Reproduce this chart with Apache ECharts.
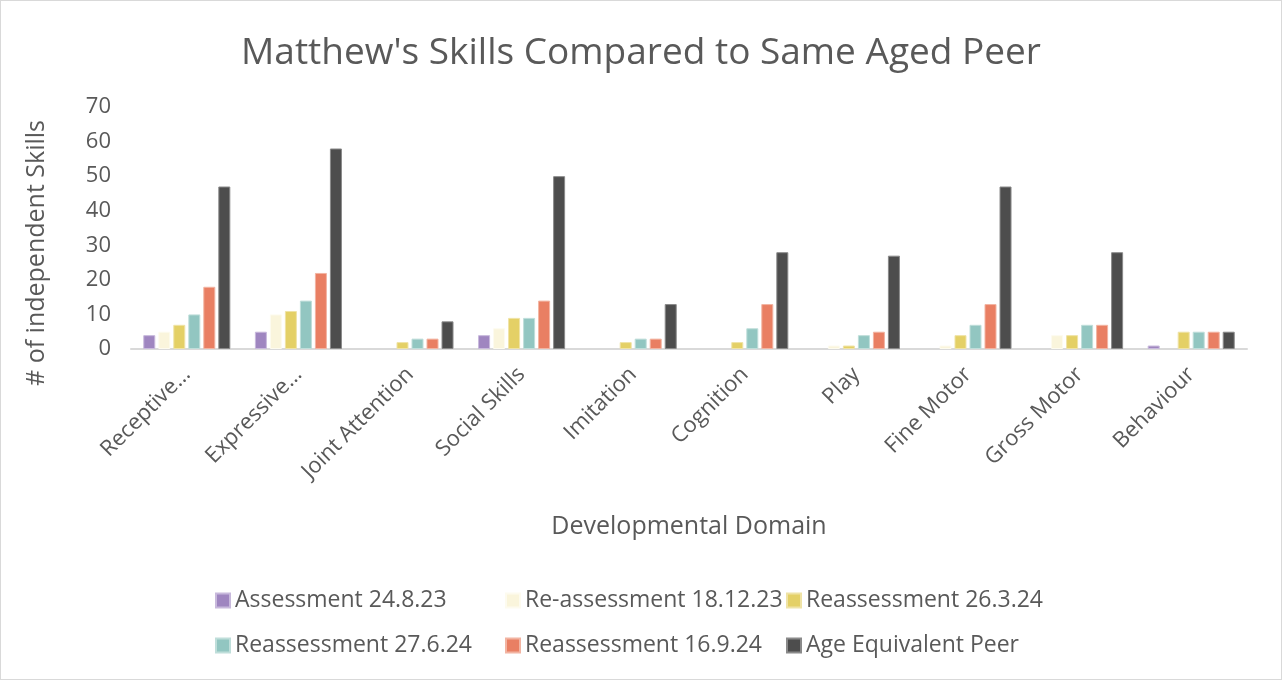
<!DOCTYPE html>
<html>
<head>
<meta charset="utf-8">
<script src="https://cdn.jsdelivr.net/npm/echarts@6/dist/echarts.min.js"></script>
<style>
html,body{margin:0;padding:0;background:#fff;}
#c{width:1282px;height:680px;box-sizing:border-box;border:1px solid #d9d9d9;}
</style>
</head>
<body>
<div id="c"></div>
<script>
const categories = ["Receptive Language","Expressive Language","Joint Attention","Social Skills","Imitation","Cognition","Play","Fine Motor","Gross Motor","Behaviour"];
const tickLabels = ["Receptive…","Expressive…","Joint Attention","Social Skills","Imitation","Cognition","Play","Fine Motor","Gross Motor","Behaviour"];
const seriesNames = ["Assessment 24.8.23","Re-assessment 18.12.23","Reassessment 26.3.24","Reassessment 27.6.24","Reassessment 16.9.24","Age Equivalent Peer"];
const assessment_24_8_23   = [4, 5, 0, 4, 0, 0, 0, 0, 0, 1];
const reassessment_18_12_23 = [5, 10, 0, 6, 0, 0, 1, 1, 4, 0];
const reassessment_26_3_24 = [7, 11, 2, 9, 2, 2, 1, 4, 4, 5];
const reassessment_27_6_24 = [10, 14, 3, 9, 3, 6, 4, 7, 7, 5];
const reassessment_16_9_24 = [18, 22, 3, 14, 3, 13, 5, 13, 7, 5];
const ageEquivalentPeer    = [47, 58, 8, 50, 13, 28, 27, 47, 28, 5];
const yTicks = {min: 0, max: 70, interval: 10};

const values = [assessment_24_8_23, reassessment_18_12_23, reassessment_26_3_24, reassessment_27_6_24, reassessment_16_9_24, ageEquivalentPeer];
const colors = ["#9f86c0","#faf5dc","#e4d066","#92c6c1","#e97f63","#4d4d4d"];
const borders = ["#c8b9dc","#fdfbef","#efe3a6","#bfdeda","#f2b4a2","#8a8a8a"];
const txt = "#595959";
const font = "Open Sans";

const legendPos = [[214, 588], [504, 588], [785, 588], [214, 633], [504, 633], [785, 633]];
const legends = seriesNames.map((n, i) => ({
  data: [n], left: legendPos[i][0], top: legendPos[i][1], padding: 0,
  itemWidth: 14, itemHeight: 14, itemGap: 0, icon: 'rect',
  textStyle: {color: txt, fontSize: 23, fontFamily: font}
}));

const chart = echarts.init(document.getElementById('c'), null, {renderer:'canvas'});
chart.setOption({
  animation: false,
  backgroundColor: '#fff',
  title: {text: "Matthew's Skills Compared to Same Aged Peer", left: 'center', top: 29,
    textStyle: {color: txt, fontSize: 37, fontWeight: 'normal', fontFamily: font}},
  legend: legends,
  grid: {left: 130, right: 34, top: 106, bottom: 330, containLabel: false},
  xAxis: {
    type: 'category', data: categories,
    name: 'Developmental Domain', nameLocation: 'middle', nameGap: 165,
    nameTextStyle: {color: txt, fontSize: 25, fontFamily: font},
    axisLine: {lineStyle: {color: '#d9d9d9', width: 2}},
    axisTick: {show: false},
    axisLabel: {rotate: 45, color: txt, fontSize: 22, fontFamily: font, margin: 22, interval: 0,
      formatter: (v, i) => tickLabels[i]}
  },
  yAxis: {
    type: 'value', min: yTicks.min, max: yTicks.max, interval: yTicks.interval,
    name: '# of independent Skills', nameLocation: 'middle', nameGap: 82,
    nameTextStyle: {color: txt, fontSize: 25, fontFamily: font, padding: [0, 50, 0, 0]},
    axisLine: {show: false}, axisTick: {show: false}, splitLine: {show: false},
    axisLabel: {color: txt, fontSize: 22, fontFamily: font, margin: 20}
  },
  series: seriesNames.map((n, i) => ({
    name: n, type: 'bar',
    data: values[i].map(v => v === 0 ? {value: 0, itemStyle: {borderWidth: 0}} : v),
    barGap: '25%', barCategoryGap: '22%',
    itemStyle: {color: colors[i], borderColor: borders[i], borderWidth: 1}
  }))
});
</script>
</body>
</html>
